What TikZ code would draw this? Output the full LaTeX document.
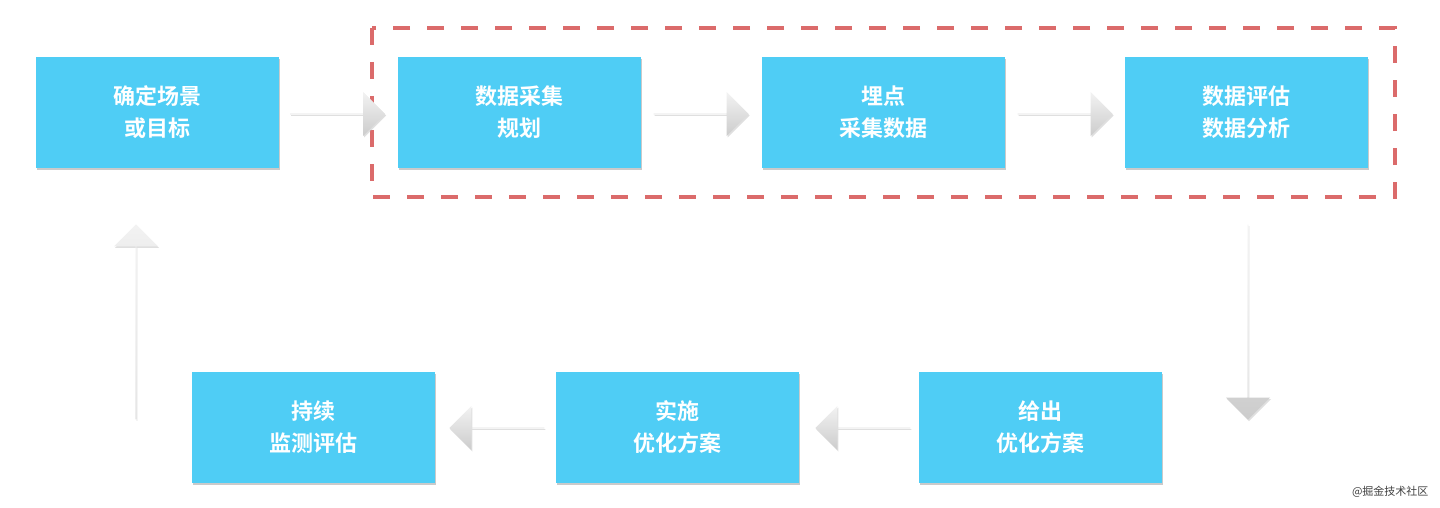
\documentclass[tikz,border=0pt]{standalone}
\usepackage{fontspec}
\newfontfamily\cjk{Noto Sans CJK SC}
\newfontfamily\cjkb{Noto Sans CJK SC Bold}
\usetikzlibrary{shapes.arrows,shadows}
\definecolor{boxblue}{HTML}{4FCDF5}
\definecolor{dashred}{HTML}{DB6B6B}
\tikzset{
  stepbox/.style={fill=boxblue, minimum width=243pt, minimum height=111pt, inner sep=0pt,
    text=white, font=\cjkb\fontsize{22pt}{32pt}\selectfont, align=center,
    drop shadow={shadow xshift=1pt, shadow yshift=-2pt, fill=black!35, opacity=.6}},
  garrow/.style={single arrow, minimum height=95pt, minimum width=44pt,
    single arrow head extend=12pt, single arrow tip angle=90, inner sep=0pt,
    top color=gray!10, bottom color=gray!40, draw=none,
    drop shadow={shadow xshift=1pt, shadow yshift=-1.5pt, fill=black!25, opacity=.5}},
}
\begin{document}
\begin{tikzpicture}[x=1pt,y=-1pt]
\useasboundingbox (0,0) rectangle (1440,508);
\draw[dashred, line width=3.5pt, dash pattern=on 17pt off 17pt] (372,28) rectangle (1395,197);
\node[stepbox] (b1) at (157.5,112.5) {确定场景\\或目标};
\node[stepbox] (b2) at (519.5,112.5) {数据采集\\规划};
\node[stepbox] (b3) at (883.5,112.5) {埋点\\采集数据};
\node[stepbox] (b4) at (1246.5,112.5) {数据评估\\数据分析};
\node[stepbox] (b5) at (1040.5,427.5) {给出\\优化方案};
\node[stepbox] (b6) at (677.5,427.5) {实施\\优化方案};
\node[stepbox] (b7) at (313.5,427.5) {持续\\监测评估};
\node[garrow] (a1) at (337.5,114) {};
\node[garrow] (a2) at (701,114) {};
\node[garrow] (a3) at (1065,114) {};
\node[garrow, minimum height=195pt, shape border rotate=270] (a4) at (1248,322) {};
\node[garrow, shape border rotate=180] (a5) at (863,428) {};
\node[garrow, shape border rotate=180] (a6) at (497,428) {};
\node[garrow, minimum height=195pt, shape border rotate=90] (a7) at (136,322) {};
\node[font=\cjk\fontsize{11pt}{13pt}\selectfont, text=black!75, anchor=east] (wm) at (1432,492) {@掘金技术社区};
\end{tikzpicture}
\end{document}
